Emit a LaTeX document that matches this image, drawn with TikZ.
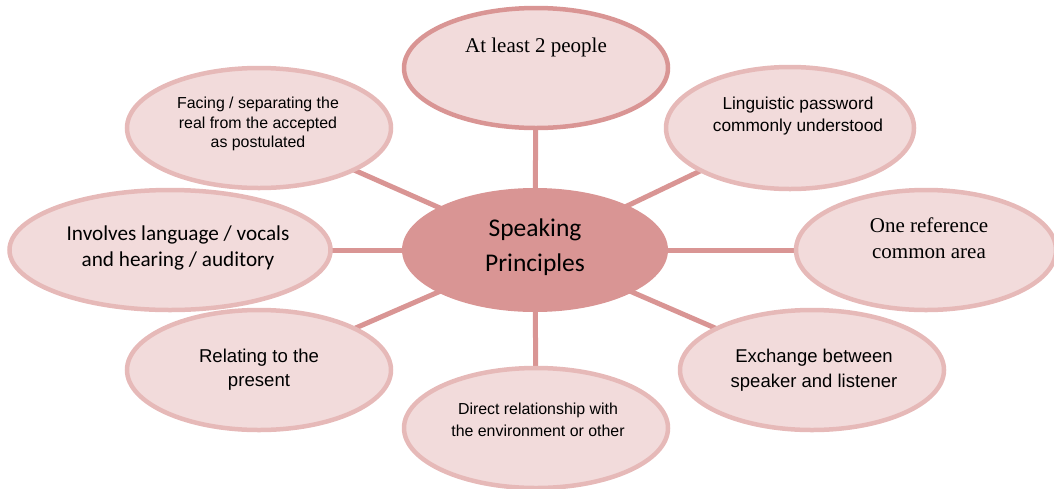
\documentclass[tikz,border=0pt]{standalone}
\usepackage{fontspec}
\setmainfont{Liberation Serif}
\newfontfamily\arialf{Liberation Sans}
\newfontfamily\calibrif{Carlito}
\usetikzlibrary{shapes.geometric}
\definecolor{petal}{HTML}{F2DBDB}
\definecolor{petalrim}{HTML}{E6B9B8}
\definecolor{rose}{HTML}{D99594}
\tikzset{
  x=1pt, y=-1pt,
  bubble/.style={ellipse, fill=petal, draw=petalrim, line width=4.5pt,
    minimum width=#1, minimum height=120pt, inner sep=0pt},
  bubble/.default=264pt,
  spoke/.style={draw=rose, line width=5pt},
  txt/.style={align=center, inner sep=0pt, text=black},
}
\begin{document}
\begin{tikzpicture}
\useasboundingbox (0,0) rectangle (1054,488);
\begin{scope}
\clip (0,0) rectangle (1054,488);
% hub
\coordinate (hub) at (535,250);
% outer bubble positions
\coordinate (pTop) at (536,68);
\coordinate (pTR) at (790,128);
\coordinate (pR) at (926,250);
\coordinate (pBR) at (812,370);
\coordinate (pB) at (536,428);
\coordinate (pBL) at (259,370);
\coordinate (pL) at (170,250);
\coordinate (pTL) at (259,128);
% spokes
\foreach \p in {pTop,pTR,pR,pBR,pB,pBL,pL,pTL}
  \draw[spoke] (hub) -- (\p);
% bubbles
\node[bubble, draw=rose] (top) at (pTop) {};
\node[bubble=248pt, minimum height=122pt] (tr) at (pTR) {};
\node[bubble=260pt] (r) at (pR) {};
\node[bubble] (br) at (pBR) {};
\node[bubble] (b) at (pB) {};
\node[bubble] (bl) at (pBL) {};
\node[bubble=321pt] (l) at (pL) {};
\node[bubble] (tl) at (pTL) {};
\node[ellipse, fill=rose, draw=none, minimum width=266pt, minimum height=124pt] (center) at (hub) {};
\end{scope}
% texts
\node[txt, font=\calibrif\fontsize{25.5}{35}\selectfont] (centerText) at (535,247) {Speaking\\Principles};
\node[txt, font=\fontsize{21}{26}\selectfont] (topText) at (536,47) {At least 2 people};
\node[txt, font=\arialf\fontsize{17.3}{22}\selectfont] (trText) at (798,116) {Linguistic password\\commonly understood};
\node[txt, font=\fontsize{21}{26}\selectfont] (rText) at (929,238) {One reference\\common area};
\node[txt, font=\arialf\fontsize{18.5}{25}\selectfont] (brText) at (814,370) {Exchange between\\speaker and listener};
\node[txt, font=\arialf\fontsize{15.9}{22}\selectfont] (bText) at (538,420) {Direct relationship with\\the environment or other};
\node[txt, font=\arialf\fontsize{18.6}{24}\selectfont] (blText) at (259,370) {Relating to the\\present};
\node[txt, font=\calibrif\fontsize{21.2}{26}\selectfont] (lText) at (178,248) {Involves language / vocals\\and hearing / auditory};
\node[txt, font=\arialf\fontsize{15.9}{19.5}\selectfont] (tlText) at (258,124) {Facing / separating the\\real from the accepted\\as postulated};
\end{tikzpicture}
\end{document}
